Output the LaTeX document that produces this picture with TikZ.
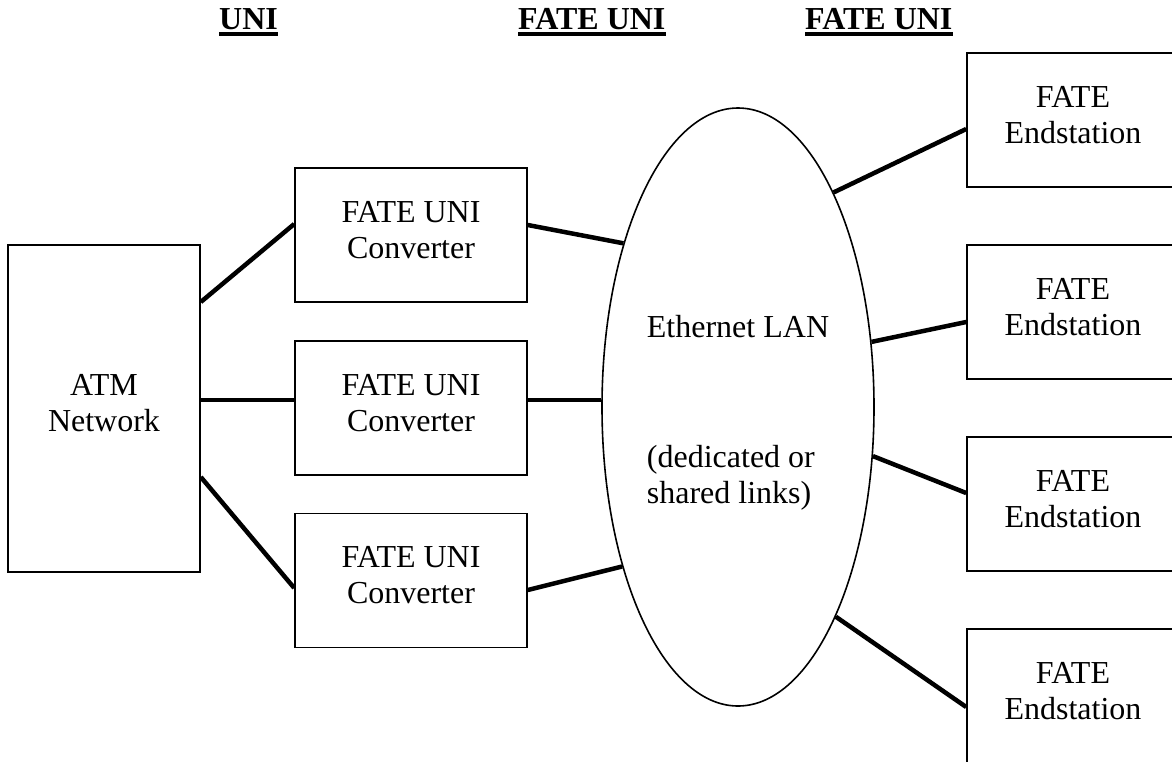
\documentclass[tikz,border=0pt]{standalone}
\usepackage{fontspec}
\setmainfont{Liberation Serif}
\usetikzlibrary{shapes.geometric}
\begin{document}
\begin{tikzpicture}[x=1pt,y=-1pt,
  box/.style={draw, line width=1.6pt, inner sep=0pt, align=center, font=\fontsize{32}{36}\selectfont},
  conv/.style={box, minimum width=232pt, minimum height=134pt},
  endst/.style={box, minimum width=212pt, minimum height=134pt},
  lanshape/.style={ellipse, draw, line width=1.6pt, inner sep=0pt, align=left,
    minimum width=272pt, minimum height=598pt, font=\fontsize{32}{36}\selectfont},
  link/.style={line width=4.5pt},
  head/.style={inner sep=0pt, anchor=base west, font=\bfseries\fontsize{32}{36}\selectfont},
  uline/.style={line width=3.2pt}]
\useasboundingbox (0,0) rectangle (1172,761);
\clip (0,0) rectangle (1172,761);

% headers
\node[head] (h1) at (219,29) {UNI};
\node[head] (h2) at (518,29) {FATE UNI};
\node[head] (h3) at (805,29) {FATE UNI};
\draw[uline] ([yshift=-5pt]h1.base west) -- ([yshift=-5pt]h1.base east);
\draw[uline] ([yshift=-5pt]h2.base west) -- ([yshift=-5pt]h2.base east);
\draw[uline] ([yshift=-5pt]h3.base west) -- ([yshift=-5pt]h3.base east);

% boxes
\node[box, minimum width=192pt, minimum height=327pt] (atm) at (104,408.5) {ATM\\Network\strut};
\node[conv] (c1) at (411,235) {FATE UNI\\Converter\strut};
\node[conv] (c2) at (411,408) {FATE UNI\\Converter\strut};
\node[conv] (c3) at (411,580.5) {FATE UNI\\Converter\strut};
\node[lanshape] (lan) at (738,407) {\rule{0pt}{33pt}Ethernet LAN\\[94pt](dedicated or\\shared links)};
\node[endst] (e1) at (1073,120) {FATE\\Endstation\strut};
\node[endst] (e2) at (1073,312) {FATE\\Endstation\strut};
\node[endst] (e3) at (1073,504) {FATE\\Endstation\strut};
\node[endst] (e4) at (1073,696) {FATE\\Endstation\strut};

% connectors
\draw[link] ([yshift=106.5pt]atm.east) -- ([yshift=11pt]c1.west);
\draw[link] ([yshift=8.5pt]atm.east) -- ([yshift=8pt]c2.west);
\draw[link] ([yshift=-68.5pt]atm.east) -- ([yshift=-7.5pt]c3.west);
\coordinate (c2o) at ([yshift=8pt]c2.east);
\draw[link] ([yshift=10pt]c1.east) -- (lan.125.6);
\draw[link] (c2o) -- (c2o -| lan.west);
\draw[link] ([yshift=-9.5pt]c3.east) -- (lan.234.7);
\draw[link] (lan.66.2) -- ([yshift=-9pt]e1.west);
\draw[link] (lan.26.1) -- ([yshift=-10pt]e2.west);
\draw[link] (lan.340.4) -- ([yshift=11pt]e3.west);
\draw[link] (lan.295.3) -- ([yshift=-11pt]e4.west);
\end{tikzpicture}
\end{document}
